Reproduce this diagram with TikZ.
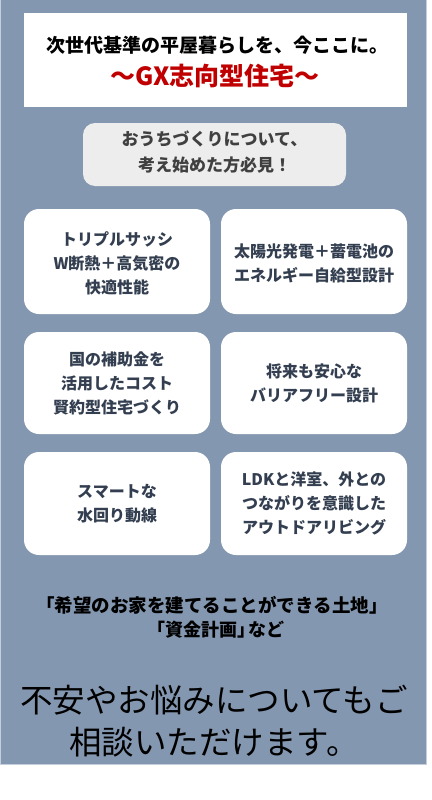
\documentclass[tikz,border=0pt]{standalone}
\usepackage{fontspec}
\setmainfont{Noto Sans CJK JP}
\begin{document}
\begin{tikzpicture}[x=1pt,y=-1pt,
  feat/.style={draw=none,fill=white,rounded corners=15pt},
  feattext/.style={text=featcol,font=\bfseries\fontsize{16}{24}\selectfont,align=center,inner sep=0pt},
]
\definecolor{bgblue}{HTML}{8497B0}
\definecolor{featcol}{HTML}{333F50}
\definecolor{gxred}{HTML}{C00000}
\definecolor{graybox}{HTML}{EDEDED}
\definecolor{graytext}{HTML}{404040}
\definecolor{edgecol}{HTML}{C5CEDB}
\useasboundingbox (0,0) rectangle (431,800);
\fill[white] (0,0) rectangle (431,800);
\filldraw[fill=bgblue,draw=edgecol,line width=0.8pt] (0.5,-1) rectangle (426,764.5);
% title box
\fill[white] (24,13) rectangle (407,107);
\node[font=\bfseries\fontsize{19}{22}\selectfont,inner sep=0pt] (t1) at (217,45) {次世代基準の平屋暮らしを、今ここに。};
\node[font=\bfseries\fontsize{25}{28}\selectfont,text=gxred,inner sep=0pt] (t2) at (215,76) {〜GX志向型住宅〜};
% gray box
\fill[graybox,rounded corners=12pt] (83,123) rectangle (346,186);
\node[text=graytext,font=\bfseries\fontsize{17}{26}\selectfont,align=center,inner sep=0pt] (sub) at (214.5,152) {おうちづくりについて、\\考え始めた方必見！};
% feature boxes
\fill[feat] (24,209) rectangle (210,314);
\fill[feat] (221,209) rectangle (407,314);
\fill[feat] (24,332) rectangle (210,434);
\fill[feat] (221,332) rectangle (407,434);
\fill[feat] (24,452) rectangle (210,555);
\fill[feat] (221,452) rectangle (407,555);
\node[feattext] (f1) at (117,263) {トリプルサッシ\\W断熱＋高気密の\\快適性能};
\node[feattext] (f2) at (314,263) {太陽光発電＋蓄電池の\\エネルギー自給型設計};
\node[feattext] (f3) at (117,383) {国の補助金を\\活用したコスト\\賢約型住宅づくり};
\node[feattext] (f4) at (314,383) {将来も安心な\\バリアフリー設計};
\node[feattext] (f5) at (117,503.5) {スマートな\\水回り動線};
\node[feattext] (f6) at (314,503.5) {LDKと洋室、外との\\つながりを意識した\\アウトドアリビング};
% bottom texts
\node[font=\bfseries\fontsize{18.5}{25}\selectfont,inner sep=0pt] (b1) at (212,605) {「希望のお家を建てることができる土地」};
\node[font=\bfseries\fontsize{18}{25}\selectfont,inner sep=0pt] (b1b) at (216,630) {「資金計画」\kern-0.4em など};
\node[font=\fontsize{32.5}{42}\selectfont,align=center,inner sep=0pt] (b2) at (214,721) {不安やお悩みについてもご\\相談いただけます。};
\end{tikzpicture}
\end{document}
